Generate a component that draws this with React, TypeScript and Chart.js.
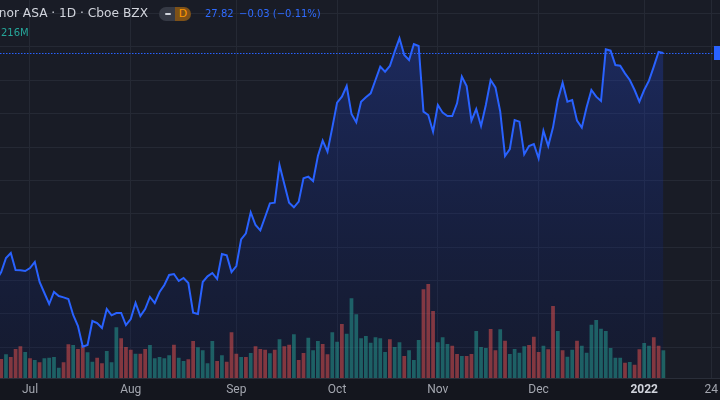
import React, { useEffect, useRef } from 'react';
import { Chart, registerables } from 'chart.js';

Chart.register(...registerables);

// trading-day index of the first value (0 = 1 Jul 2021)
const FIRST_DAY_INDEX = -7;

const closes = [
  21.01, 21.25, 21.67, 21.82, 21.31, 21.30, 21.28, 21.37, 21.55, 20.95,
  20.62, 20.29, 20.65, 20.53, 20.49, 20.44, 19.96, 19.63, 19.01, 19.06,
  19.78, 19.72, 19.57, 20.14, 19.95, 20.02, 20.02, 19.66, 19.84, 20.32,
  19.93, 20.14, 20.50, 20.32, 20.65, 20.86, 21.16, 21.19, 20.98, 21.07,
  20.92, 20.03, 19.99, 20.95, 21.12, 21.22, 21.04, 21.79, 21.75, 21.25,
  21.43, 22.23, 22.41, 23.04, 22.66, 22.50, 22.90, 23.31, 23.33, 24.46,
  23.89, 23.33, 23.19, 23.36, 24.06, 24.11, 23.98, 24.73, 25.19, 24.86,
  25.58, 26.33, 26.51, 26.83, 25.99, 25.74, 26.36, 26.49, 26.61, 27.01,
  27.41, 27.26, 27.43, 27.86, 28.26, 27.76, 27.61, 28.09, 28.03, 26.06,
  25.96, 25.46, 26.26, 26.03, 25.93, 25.93, 26.31, 27.11, 26.83, 25.79,
  26.14, 25.63, 26.26, 27.01, 26.79, 26.06, 24.73, 24.94, 25.81, 25.76,
  24.78, 25.03, 25.09, 24.66, 25.49, 25.03, 25.59, 26.41, 26.93, 26.36,
  26.41, 25.79, 25.58, 26.19, 26.71, 26.51, 26.38, 27.93, 27.89, 27.46,
  27.44, 27.21, 27.01, 26.71, 26.36, 26.71, 26.99, 27.41, 27.85, 27.82,
];

// volume in millions
const volumes = [
  1.76, 1.52, 1.90, 1.68, 2.32, 2.54, 2.08, 1.58, 1.44, 1.26,
  1.58, 1.62, 1.68, 0.82, 1.26, 2.70, 2.64, 2.32, 2.64, 2.06,
  1.30, 1.62, 1.18, 2.16, 1.26, 4.06, 3.18, 2.48, 2.26, 1.94,
  1.94, 2.32, 2.64, 1.58, 1.68, 1.58, 1.82, 2.66, 1.62, 1.36,
  1.50, 2.96, 2.46, 2.22, 1.18, 2.96, 1.36, 1.82, 1.30, 3.66,
  1.94, 1.68, 1.68, 2.00, 2.54, 2.32, 2.26, 1.98, 2.26, 3.10,
  2.54, 2.66, 3.50, 1.44, 2.00, 3.22, 2.22, 2.96, 2.72, 1.90,
  3.66, 2.90, 4.32, 3.54, 6.38, 5.10, 3.18, 3.36, 2.82, 3.26,
  3.18, 2.08, 3.10, 2.48, 2.86, 1.76, 2.22, 1.44, 3.04, 7.10,
  7.52, 5.36, 2.86, 3.26, 2.72, 2.58, 1.92, 1.76, 1.76, 1.92,
  3.76, 2.48, 2.40, 3.92, 2.22, 3.90, 2.98, 1.92, 2.32, 2.02,
  2.54, 2.64, 3.30, 2.08, 2.58, 2.30, 5.76, 3.76, 2.22, 1.70,
  2.26, 2.98, 2.58, 2.02, 4.26, 4.64, 3.94, 3.76, 2.40, 1.62,
  1.62, 1.22, 1.28, 1.06, 2.30, 2.80, 2.58, 3.26, 2.58, 2.216,
];

// u = up day (teal), d = down day (red)
const volumeDirections = (
  'ddudddudud' + 'uuuudduddu' + 'udduuudddu' + 'dduuuuuduu' + 'dduuuududd' +
  'dududddudu' + 'ddudduuudd' + 'uuduuuuuuu' + 'uuduuduuud' + 'dduuuddudd' +
  'uuudduduuu' + 'uddduddudu' + 'uduuuuuuuu' + 'ududduuddu'
).split('');

const timeTicks = [0, 21, 43, 64, 85, 106, 128, 142];
const timeTickLabels = ['Jul', 'Aug', 'Sep', 'Oct', 'Nov', 'Dec', '2022', '24'];
const priceGridLines = [19, 20, 21, 22, 23, 24, 25, 26, 27, 28, 29];

const symbolTitle = 'Equinor ASA · 1D · Cboe BZX';
const intervalBadge = 'D';
const lastPriceText = '27.82';
const changeText = '−0.03 (−0.11%)';
const volumeText = '216M';

const BG = '#191c26';
const AXIS_BG = '#14161e';
const GRID = '#252934';
const BLUE = '#2962ff';

export default function App() {
  const ref = useRef<HTMLCanvasElement>(null);

  useEffect(() => {
    const canvas = ref.current;
    if (!canvas) return;
    const dayIndex = closes.map((_, i) => FIRST_DAY_INDEX + i);
    const lastClose = closes[closes.length - 1];

    const backdrop = {
      id: 'backdrop',
      beforeDraw(chart: any) {
        const { ctx, chartArea: a, width, height } = chart;
        ctx.save();
        ctx.fillStyle = BG;
        ctx.fillRect(0, 0, width, height);
        ctx.fillStyle = AXIS_BG;
        ctx.fillRect(0, a.bottom, width, height - a.bottom);
        ctx.restore();
      },
      beforeDatasetsDraw(chart: any) {
        const { ctx, chartArea: a } = chart;
        const y = Math.round(chart.scales.y.getPixelForValue(lastClose)) + 0.5;
        ctx.save();
        ctx.strokeStyle = BLUE;
        ctx.lineWidth = 1;
        ctx.setLineDash([1.5, 1.5]);
        ctx.beginPath();
        ctx.moveTo(a.left, y);
        ctx.lineTo(a.right - 7, y);
        ctx.stroke();
        ctx.restore();
      },
      afterDraw(chart: any) {
        const { ctx, chartArea: a } = chart;
        const y = chart.scales.y.getPixelForValue(lastClose);
        ctx.save();
        ctx.fillStyle = BLUE;
        ctx.fillRect(a.right - 6, y - 7, 10, 14);
        ctx.restore();
      },
    };

    const chart = new Chart(canvas, {
      type: 'line',
      data: {
        datasets: [
          {
            type: 'line',
            data: closes.map((c, i) => ({ x: dayIndex[i], y: c })),
            yAxisID: 'y',
            borderColor: BLUE,
            borderWidth: 2,
            pointRadius: 0,
            tension: 0,
            fill: 'start',
            order: 0,
            backgroundColor: (context: any) => {
              const { chart: ch } = context;
              const a = ch.chartArea;
              if (!a) return 'rgba(30,60,170,0.2)';
              const g = ch.ctx.createLinearGradient(0, a.top, 0, a.bottom);
              g.addColorStop(0, 'rgba(40,80,235,0.32)');
              g.addColorStop(1, 'rgba(0,20,100,0.15)');
              return g;
            },
          } as any,
          {
            type: 'bar',
            data: volumes.map((v, i) => ({ x: dayIndex[i], y: v })),
            yAxisID: 'v',
            backgroundColor: volumeDirections.map((d) =>
              d === 'u' ? 'rgba(38,166,154,0.5)' : 'rgba(239,83,80,0.5)'
            ),
            borderWidth: 0,
            barPercentage: 0.78,
            categoryPercentage: 1,
            order: 1,
          } as any,
        ],
      },
      options: {
        animation: false,
        responsive: false,
        events: [],
        layout: { padding: 0 },
        plugins: {
          legend: { display: false },
          tooltip: { enabled: false },
          filler: { drawTime: 'beforeDatasetsDraw' },
        } as any,
        scales: {
          x: {
            type: 'linear',
            min: -6.25,
            max: 143.8,
            offset: false,
            grid: { color: GRID, drawTicks: false, offset: false },
            border: { display: true, color: '#2a2e39' },
            afterBuildTicks: (s: any) => {
              s.ticks = timeTicks.map((v) => ({ value: v }));
            },
            afterFit: (s: any) => {
              s.height = 22;
              s.paddingLeft = 0;
              s.paddingRight = 0;
            },
            ticks: {
              autoSkip: false,
              maxRotation: 0,
              padding: 5,
              callback: (value: any) => timeTickLabels[timeTicks.indexOf(Number(value))] ?? '',
              color: (c: any) => (/^\d{4}$/.test(c.tick?.label ?? '') ? '#d1d4dc' : '#a3a6af'),
              font: (c: any) => ({
                family: 'Roboto',
                size: 12,
                weight: /^\d{4}$/.test(c.tick?.label ?? '') ? 'bold' : 'normal',
              }),
            },
          } as any,
          y: {
            type: 'linear',
            position: 'right',
            min: 18.07,
            max: 29.41,
            grid: { color: GRID, drawTicks: false },
            border: { display: false },
            ticks: { display: false },
            afterBuildTicks: (s: any) => {
              s.ticks = priceGridLines.map((v) => ({ value: v }));
            },
            afterFit: (s: any) => {
              s.width = 0;
            },
          } as any,
          v: {
            type: 'linear',
            display: false,
            min: 0,
            max: 30.24,
          },
        },
      },
      plugins: [backdrop],
    });
    return () => chart.destroy();
  }, []);

  const font = '"DejaVu Sans", sans-serif';
  return (
    <div
      style={{
        position: 'fixed',
        left: 0,
        top: 0,
        width: 720,
        height: 400,
        overflow: 'hidden',
        background: BG,
      }}
    >
      <canvas ref={ref} width={720} height={400} style={{ display: 'block', width: 720, height: 400 }} />
      <div
        style={{
          position: 'absolute',
          right: 720 - 148,
          top: 5,
          fontFamily: font,
          fontSize: 12.2,
          lineHeight: '16px',
          color: '#d1d4dc',
          whiteSpace: 'nowrap',
        }}
      >
        {symbolTitle}
      </div>
      <div
        style={{
          position: 'absolute',
          left: 159,
          top: 7,
          width: 32,
          height: 14,
          borderRadius: 7,
          overflow: 'hidden',
          display: 'flex',
        }}
      >
        <div style={{ width: 16, height: 14, background: '#363a45', position: 'relative' }}>
          <div
            style={{
              position: 'absolute',
              left: 6,
              top: 6,
              width: 6,
              height: 2,
              borderRadius: 1,
              background: '#d1d4dc',
            }}
          />
        </div>
        <div
          style={{
            width: 16,
            height: 14,
            background: '#7d5118',
            color: '#ff9800',
            fontFamily: font,
            fontSize: 11,
            lineHeight: '14px',
            textAlign: 'center',
          }}
        >
          {intervalBadge}
        </div>
      </div>
      <div
        style={{
          position: 'absolute',
          left: 205,
          top: 7,
          fontFamily: font,
          fontSize: 10,
          lineHeight: '14px',
          color: '#2f6bff',
          whiteSpace: 'nowrap',
        }}
      >
        {lastPriceText}
      </div>
      <div
        style={{
          position: 'absolute',
          left: 239,
          top: 7,
          fontFamily: font,
          fontSize: 10,
          lineHeight: '14px',
          color: '#2f6bff',
          whiteSpace: 'nowrap',
        }}
      >
        {changeText}
      </div>
      <div
        style={{
          position: 'absolute',
          left: 1,
          top: 26,
          fontFamily: font,
          fontSize: 10,
          lineHeight: '14px',
          color: '#26a69a',
          whiteSpace: 'nowrap',
        }}
      >
        {volumeText}
      </div>
    </div>
  );
}
